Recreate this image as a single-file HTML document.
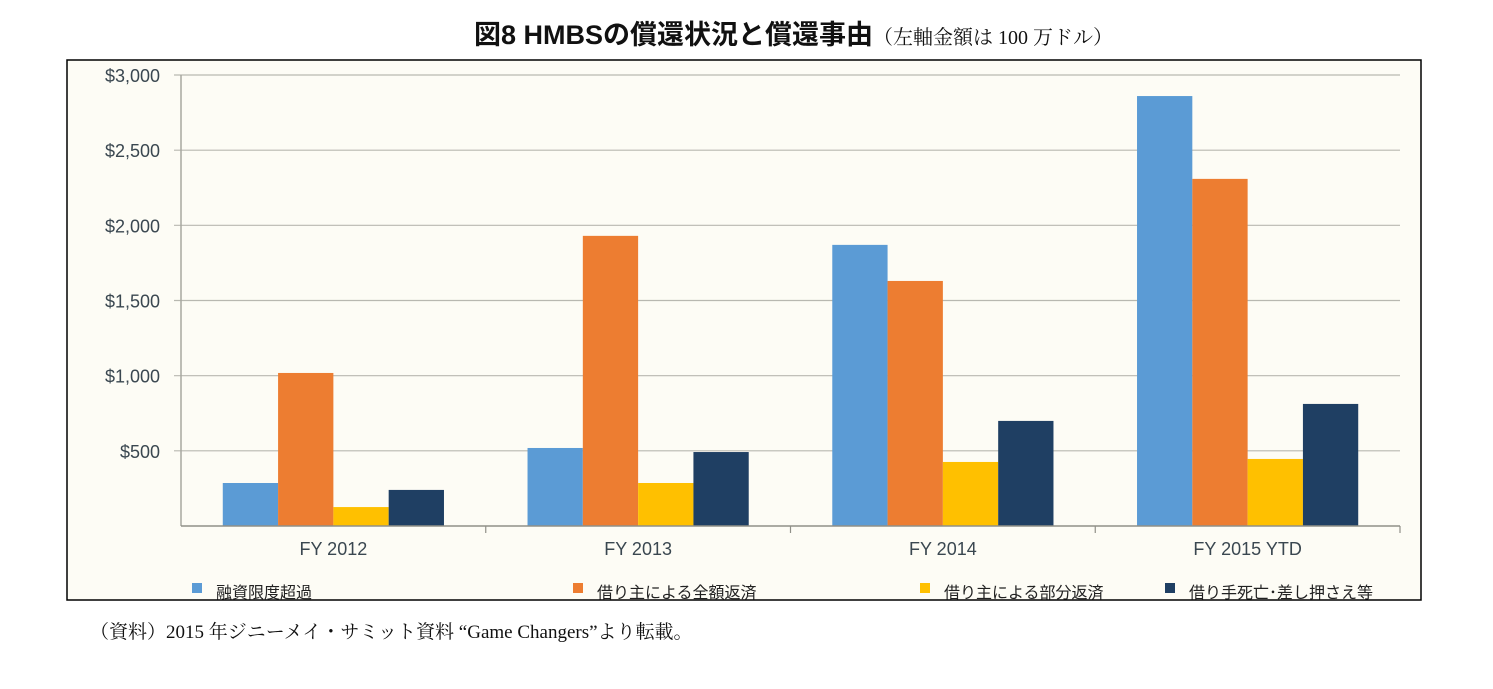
<!DOCTYPE html>
<html><head><meta charset="utf-8">
<style>
body{margin:0;background:#fff;width:1493px;height:684px;overflow:hidden;font-family:"Liberation Sans","Noto Sans CJK JP",sans-serif;}
</style></head>
<body>
<svg width="1493" height="684" xmlns="http://www.w3.org/2000/svg">
<text x="474" y="44" font-size="27" font-weight="bold" font-family="'Liberation Sans','Noto Sans CJK JP',sans-serif" fill="#111">図8  HMBSの償還状況と償還事由<tspan font-size="20" font-weight="normal" font-family="'Liberation Serif','Noto Serif CJK SC',serif">（左軸金額は 100 万ドル）</tspan></text>
<rect x="67" y="60" width="1354" height="540" fill="#fdfcf5" stroke="#000" stroke-width="1.5"/>
<g id="grid"></g>
<g id="bars"></g>
<g id="axes"></g>
<g id="legend"></g>
<text x="90" y="638" font-size="19" font-family="'Liberation Serif','Noto Serif CJK JP',serif" fill="#111">（資料）2015 年ジニーメイ・サミット資料 “Game Changers”より転載。</text>
</svg>
<script>
const categories=["FY 2012","FY 2013","FY 2014","FY 2015 YTD"];
const seriesNames=["融資限度超過","借り主による全額返済","借り主による部分返済","借り手死亡･差し押さえ等"];
const s1=[286,519,1870,2860];
const s2=[1018,1930,1630,2309];
const s3=[126,286,426,446];
const s4=[240,492,699,812];
const ticks=[500,1000,1500,2000,2500,3000];
const tickLabels=["$500","$1,000","$1,500","$2,000","$2,500","$3,000"];
const colors=["#5b9bd5","#ed7d31","#ffc000","#1f3f63"];
const NS="http://www.w3.org/2000/svg";
const X0=181,X1=1400,Y0=526,Y1=75,MAX=3000;
const y=v=>Y0-(v/MAX)*(Y0-Y1);
const cw=(X1-X0)/categories.length;
const bw=55.3;
function mk(t,a,p){const e=document.createElementNS(NS,t);for(const k in a)e.setAttribute(k,a[k]);p.appendChild(e);return e;}
const grid=document.getElementById('grid'),bars=document.getElementById('bars'),axes=document.getElementById('axes'),leg=document.getElementById('legend');
ticks.forEach((t,i)=>{
 const l=mk('line',{x1:174,x2:X1,y1:y(t),y2:y(t),stroke:'#b8b8b0','stroke-width':1.2},grid);
 
 
 const tx=mk('text',{x:160,y:y(t)+7,'text-anchor':'end','font-size':18,fill:'#3a4750'},axes);
 tx.textContent=tickLabels[i];
 
 
});
const ax=mk('line',{x1:X0,x2:X0,y1:Y1,y2:Y0,stroke:'#a8a8a0','stroke-width':1.5},axes);


const bx=mk('line',{x1:X0,x2:X1,y1:Y0,y2:Y0,stroke:'#909088','stroke-width':1.5},axes);


const series=[s1,s2,s3,s4];
categories.forEach((c,i)=>{
 const cx=X0+cw*i;
 const tk=mk('line',{x1:cx+cw,x2:cx+cw,y1:Y0,y2:Y0+7,stroke:'#909088','stroke-width':1.2},axes);
 
 
 series.forEach((s,j)=>{
  const bx0=cx+cw/2-2*bw+j*bw;
  const r=mk('rect',{x:bx0,y:y(s[i]),width:bw,height:Y0-y(s[i]),fill:colors[j]},bars);
  
  
 });
 const t=mk('text',{x:cx+cw/2,y:555,'text-anchor':'middle','font-size':18,fill:'#3a4750'},axes);
 t.textContent=c;
 
 
});
const lx=[192,573,920,1165];
seriesNames.forEach((n,j)=>{
 const r=mk('rect',{x:lx[j],y:583,width:10,height:10,fill:colors[j]},leg);
 
 
 const t=mk('text',{x:lx[j]+24,y:598,'font-size':16,fill:'#222'},leg);
 t.textContent=n;
 
 
});
</script>
</body></html>
